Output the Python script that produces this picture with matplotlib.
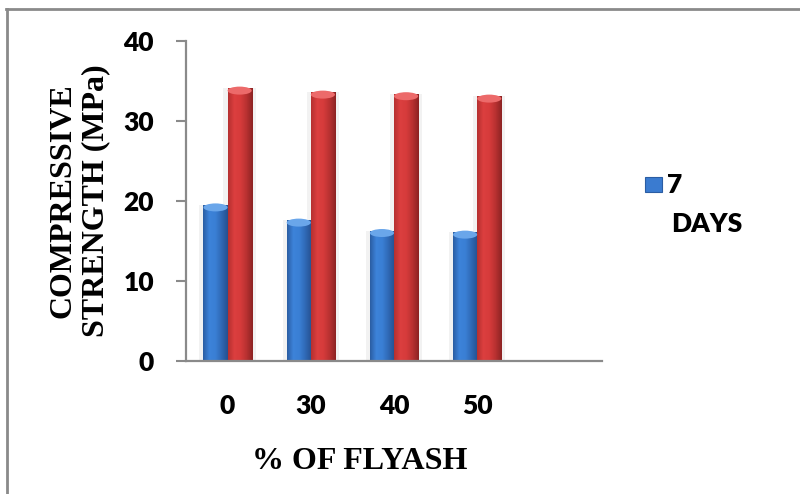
import numpy as np
import matplotlib
matplotlib.use('Agg')
import matplotlib.pyplot as plt
from matplotlib.colors import LinearSegmentedColormap
from matplotlib.patches import Rectangle, Ellipse
from matplotlib.lines import Line2D

# Compressive strength vs fly ash replacement
flyash = ['0', '30', '40', '50']
days7 = [19.5, 17.6, 16.3, 16.1]
days28 = [34.1, 33.6, 33.4, 33.1]

blue_cm = LinearSegmentedColormap.from_list(
    'blue_bar', ['#2b5da3', '#3d83da', '#3a7fd4', '#2f68b4', '#26508f'])
red_cm = LinearSegmentedColormap.from_list(
    'red_bar', ['#b53030', '#dc3f3f', '#d63b3b', '#b83131', '#8c2323'])

fig = plt.figure(figsize=(8, 4.94), dpi=100)
ax = fig.add_axes([0.2325, 0.2692, 0.52, 0.6478])

# outer frame (top and left edges only)
fig.add_artist(Line2D([6/800, 1], [1 - 9/494, 1 - 9/494], transform=fig.transFigure,
                      color='#8a8a8a', lw=2))
fig.add_artist(Line2D([7/800, 7/800], [0, 1 - 9/494], transform=fig.transFigure,
                      color='#8a8a8a', lw=2))

x = np.arange(len(flyash))
w = 0.29
grad = np.linspace(0, 1, 64).reshape(1, -1)


def cylinder_bars(xpos, vals, cmap, cap):
    for xi, v in zip(xpos, vals):
        # soft shadow
        ax.add_patch(Rectangle((xi - w/2 - 0.05, 0), w + 0.1, v, color='#000000',
                               alpha=0.05, lw=0, zorder=1))
        bar = ax.bar(xi, v, width=w, color='none', lw=0, zorder=2)[0]
        im = ax.imshow(grad, cmap=cmap, aspect='auto', zorder=2,
                       extent=[xi - w/2, xi + w/2, 0, v])
        im.set_clip_path(bar)
        ax.add_patch(Ellipse((xi, v - 0.3), w, 1.0, color=cap, lw=0, zorder=3))


cylinder_bars(x - w/2, days7, blue_cm, '#6aa6ea')
cylinder_bars(x + w/2, days28, red_cm, '#ec6a6a')

ax.set_xlim(-0.5, 4.5)
ax.set_ylim(0, 40)
ax.set_yticks([0, 10, 20, 30, 40])
ax.set_xticks(x)
ax.set_xticklabels(flyash)

for s in ['top', 'right']:
    ax.spines[s].set_visible(False)
for s in ['left', 'bottom']:
    ax.spines[s].set_color('#8a8a8a')
    ax.spines[s].set_linewidth(1.6)

ax.tick_params(axis='y', direction='out', length=7, width=1.5, color='#8a8a8a', pad=16)
ax.tick_params(axis='x', length=0, pad=24)
for lab in ax.get_xticklabels() + ax.get_yticklabels():
    lab.set_fontfamily('Lato')
    lab.set_fontweight('heavy')
    lab.set_fontsize(19)

ax.set_xlabel('% OF FLYASH', fontfamily='Liberation Serif', fontweight='bold',
              fontsize=23, va='center')
ax.xaxis.set_label_coords(0.417, -0.3125)
ax.set_ylabel('COMPRESSIVE\nSTRENGTH (MPa)', fontfamily='Liberation Serif',
              fontweight='bold', fontsize=23, va='center', ha='center',
              multialignment='center', linespacing=1.15)
ax.yaxis.set_label_coords(-0.257, 0.5)

# legend entry
fig.add_artist(Rectangle((645/800, 1 - 192/494), 17/800, 15/494, transform=fig.transFigure,
                         facecolor='#3a7bd0', edgecolor='#2b5da3', lw=0.8))
fig.text(667/800, 1 - 185/494, '7', fontfamily='Lato', fontweight='heavy',
         fontsize=19, va='center', ha='left')
fig.text(671/800, 1 - 224/494, 'DAYS', fontfamily='Lato', fontweight='heavy',
         fontsize=19, va='center', ha='left')

fig.savefig('out.png', dpi=100)
